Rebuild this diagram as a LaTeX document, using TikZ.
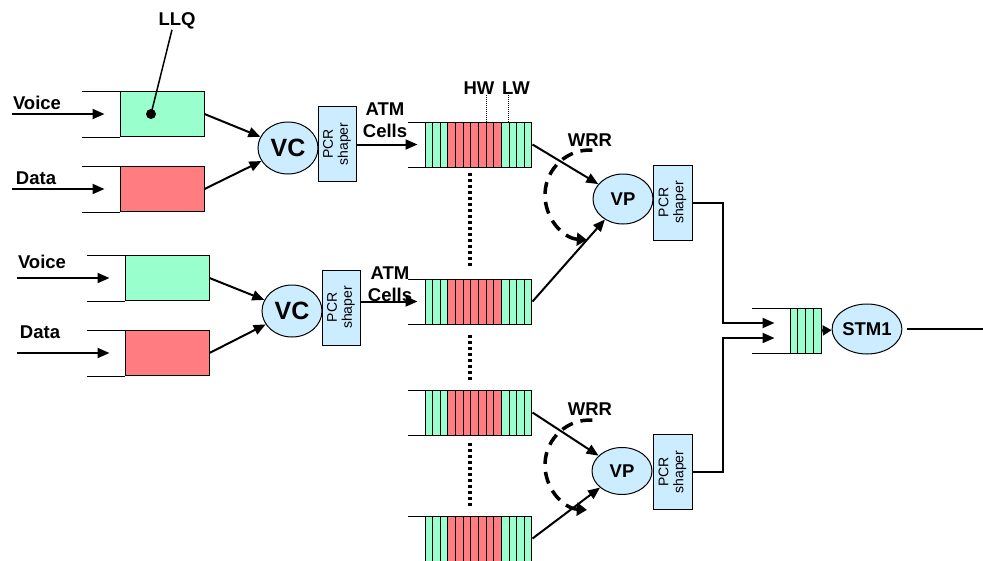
\documentclass[tikz,border=0pt]{standalone}
\usepackage{fontspec}
\setmainfont{Liberation Sans}
\usepackage{xcolor}
\usepackage{tikz}
\usetikzlibrary{shapes.geometric,arrows.meta}

\definecolor{qgreen}{RGB}{153,255,204}
\definecolor{qred}{RGB}{255,124,128}
\definecolor{qblue}{RGB}{204,236,255}

\begin{document}
\begin{tikzpicture}[x=1pt,y=-1pt,line width=1pt,
	lbl/.style={font=\fontsize{18.5}{22}\selectfont\bfseries,inner sep=0pt,align=center},
	qbox/.style={draw,minimum width=84pt,minimum height=45pt,inner sep=0pt},
	sched/.style={ellipse,draw,fill=qblue,inner sep=0pt,minimum width=60pt,minimum height=50pt,font=\fontsize{18.5}{18}\selectfont\bfseries},
	shaper/.style={draw,fill=qblue,rotate=90,minimum width=75pt,minimum height=38pt,inner sep=0pt,align=center,font=\fontsize{14}{15}\selectfont},
	flow/.style={line width=2pt,-{Triangle[length=12pt,width=10pt]}},
	dotline/.style={line width=3.5pt,dash pattern=on 3pt off 3pt},
	rrarc/.style={line width=3.5pt,dash pattern=on 12pt off 8pt,-{Triangle[length=10pt,width=13pt]}}]

	\useasboundingbox (0,0) rectangle (983,560);

	\node[qbox,fill=qgreen] (voice1) at (162,114) {};
	\node[qbox,fill=qred] (data1) at (162,189) {};
	\node[qbox,fill=qgreen] (voice2) at (167,278) {};
	\node[qbox,fill=qred] (data2) at (167,353) {};
	\foreach \b in {voice1,data1,voice2,data2}
		\draw ([xshift=-38pt]\b.north west) -- (\b.north west) ([xshift=-38pt]\b.south west) -- (\b.south west);

	\node[lbl] (voice1lbl) at (37,103) {Voice};
	\node[lbl] (data1lbl) at (36,178) {Data};
	\node[lbl] (voice2lbl) at (42,262) {Voice};
	\node[lbl] (data2lbl) at (40,332) {Data};
	\coordinate (voice1in) at (12,114);
	\coordinate (data1in) at (12,189);
	\coordinate (voice2in) at (17,278);
	\coordinate (data2in) at (17,353);
	\draw[flow] (voice1in) -- ([xshift=-15pt]voice1.west);
	\draw[flow] (data1in) -- ([xshift=-15pt]data1.west);
	\draw[flow] (voice2in) -- ([xshift=-15pt]voice2.west);
	\draw[flow] (data2in) -- ([xshift=-15pt]data2.west);

	\node[lbl] (llq) at (177,21) {LLQ};
	\coordinate (llqdot) at (151,114);
	\fill (llqdot) circle (5pt);
	\draw[line width=1.5pt] ([xshift=-5pt]llq.south) -- (llqdot);

	\node[sched,font=\fontsize{25}{25}\selectfont\bfseries,minimum height=52pt] (vc1) at (288,148) {VC};
	\node[sched,font=\fontsize{25}{25}\selectfont\bfseries,minimum height=52pt] (vc2) at (292,311) {VC};
	\draw[flow] (voice1.east) -- (vc1);
	\draw[flow] (data1.east) -- (vc1);
	\draw[flow] (voice2.east) -- (vc2);
	\draw[flow] (data2.east) -- (vc2);

	\node[shaper] (pcr1) at (337,144) {PCR\\shaper};
	\node[shaper] (pcr2) at (341,307.5) {PCR\\shaper};

	\foreach \q/\y in {1/122,2/279,3/390,4/516} {
		\draw (408,\y) -- (532,\y) (408,\y+45) -- (532,\y+45);
		\foreach \c [count=\i from 0] in {qgreen,qgreen,qgreen,qred,qred,qred,qred,qred,qred,qred,qgreen,qgreen,qgreen,qgreen}
			\filldraw[fill=\c] (425+\i*7.64,\y) rectangle ++(7.64,45);
		\node[minimum width=107pt,minimum height=45pt,inner sep=0pt] (atm\q) at (478.5,\y+22.5) {};
	}

	\node[lbl] (cells1) at (385,120) {ATM\\Cells};
	\node[lbl] (cells2) at (390,284) {ATM\\Cells};
	\draw[flow] (pcr1.south |- atm1) -- ([xshift=-7pt]atm1.west);
	\draw[flow] (pcr2.south |- atm2) -- ([xshift=-7pt]atm2.west);

	\node[lbl] (hw) at (479,88) {HW};
	\node[lbl] (lw) at (516,88) {LW};
	\draw[densely dotted,line width=1pt] (486,95) -- (486,122);
	\draw[densely dotted,line width=1pt] (508,95) -- (508,122);

	\draw[dotline] (470,173) -- (470,268);
	\draw[dotline] (470,335) -- (470,380);
	\draw[dotline] (470,443) -- (470,508);

	\node[sched] (vp1) at (623,199) {VP};
	\node[sched,minimum height=47pt] (vp2) at (622,471) {VP};
	\draw[flow] (atm1.east) -- (vp1);
	\draw[flow] (atm2.east) -- (vp1);
	\draw[flow] (atm3.east) -- (vp2);
	\draw[flow] (atm4.east) -- (vp2);

	\node[lbl] (wrr1) at (590,140) {WRR};
	\node[lbl] (wrr2) at (590,409) {WRR};
	\coordinate (rr1) at (590,195);
	\coordinate (rr2) at (590,465);
	\draw[rrarc] (rr1) ++(-87:45) arc[start angle=-87,end angle=-266,radius=45];
	\draw[rrarc] (rr2) ++(-87:45) arc[start angle=-87,end angle=-266,radius=45];

	\node[shaper,minimum height=39pt] (pcr3) at (672.5,202.5) {PCR\\shaper};
	\node[shaper,minimum height=39pt] (pcr4) at (672.5,472) {PCR\\shaper};

	\draw (752,308) -- (821,308) (752,353) -- (821,353);
	\foreach \i in {0,...,3}
		\filldraw[fill=qgreen] (790+\i*7.75,308) rectangle ++(7.75,45);
	\node[minimum width=31pt,minimum height=45pt,inner sep=0pt] (fq) at (805.5,330.5) {};

	\draw[flow] (pcr3.south) -- ++(30,0) |- ([xshift=-15pt,yshift=7.5pt]fq.west);
	\draw[flow] (pcr4.south) -- ++(30,0) |- ([xshift=-15pt,yshift=-7.5pt]fq.west);

	\node[sched] (stm) at (867,329) {STM1};
	\coordinate (out) at (983,329);
	\draw[line width=2pt,-{Triangle[length=9pt,width=10pt]}] (fq.east) -- (stm);
	\draw[line width=2pt] ([xshift=5pt]stm.east) -- (out);
\end{tikzpicture}
\end{document}
